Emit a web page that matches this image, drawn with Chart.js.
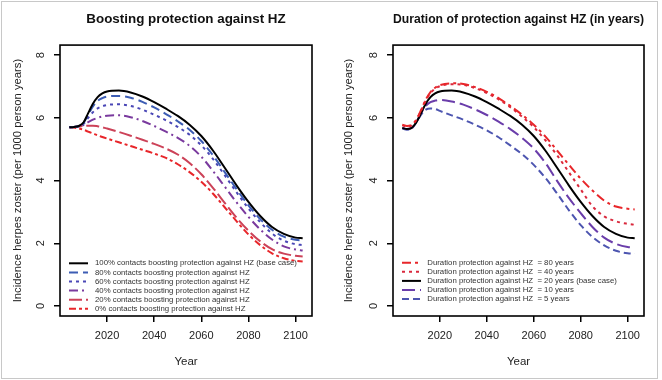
<!DOCTYPE html>
<html>
<head>
<meta charset="utf-8">
<script src="https://cdn.jsdelivr.net/npm/chart.js@4.4.1/dist/chart.umd.min.js"></script>
<style>
    body { margin: 0; background: #fff; }
    .frame { position: absolute; left: 1px; top: 1px; width: 655px; height: 376px; border: 1px solid #c8c8c8; }
    .panel { position: absolute; top: 0; width: 331px; height: 380px; }
</style>
</head>
<body>
<div class="frame"></div>
<div class="panel" style="left:0"><canvas id="boosting" width="331" height="380"></canvas></div>
<div class="panel" style="left:331px"><canvas id="duracion" width="331" height="380"></canvas></div>
<script>
const years = [2004, 2006, 2008, 2010, 2012, 2014, 2016, 2018, 2020, 2025, 2030, 2035, 2040, 2045, 2050, 2055, 2060, 2065, 2070, 2075, 2080, 2085, 2090, 2095, 2100, 2103];
const yTicks = [0, 2, 4, 6, 8];
const xTicks = [2020, 2040, 2060, 2080, 2100];

// left panel: % contacts boosting protection
const boost100 = [5.70, 5.71, 5.74, 5.85, 6.15, 6.45, 6.66, 6.78, 6.84, 6.87, 6.81, 6.68, 6.50, 6.29, 6.06, 5.78, 5.42, 4.95, 4.40, 3.84, 3.32, 2.87, 2.52, 2.30, 2.18, 2.16];
const boost80 = [5.70, 5.71, 5.74, 5.84, 6.10, 6.36, 6.54, 6.63, 6.68, 6.70, 6.64, 6.51, 6.33, 6.12, 5.89, 5.62, 5.26, 4.80, 4.26, 3.72, 3.21, 2.77, 2.43, 2.21, 2.11, 2.09];
const boost60 = [5.70, 5.71, 5.73, 5.80, 6.00, 6.18, 6.30, 6.37, 6.41, 6.43, 6.38, 6.26, 6.10, 5.92, 5.71, 5.46, 5.12, 4.68, 4.16, 3.62, 3.11, 2.67, 2.31, 2.08, 1.97, 1.94];
const boost40 = [5.70, 5.71, 5.73, 5.77, 5.86, 5.94, 6.00, 6.04, 6.07, 6.08, 6.02, 5.90, 5.74, 5.56, 5.36, 5.11, 4.76, 4.30, 3.80, 3.30, 2.84, 2.44, 2.12, 1.90, 1.80, 1.77];
const boost20 = [5.70, 5.71, 5.72, 5.74, 5.75, 5.75, 5.73, 5.70, 5.66, 5.55, 5.43, 5.30, 5.17, 5.02, 4.83, 4.56, 4.20, 3.76, 3.28, 2.81, 2.40, 2.06, 1.81, 1.67, 1.60, 1.58];
const boost0 = [5.70, 5.69, 5.66, 5.62, 5.56, 5.50, 5.44, 5.39, 5.34, 5.22, 5.10, 4.98, 4.86, 4.72, 4.52, 4.27, 3.96, 3.58, 3.14, 2.70, 2.28, 1.94, 1.68, 1.52, 1.44, 1.42];

// right panel: duration of protection (years)
const dur80 = [5.78, 5.74, 5.78, 5.95, 6.25, 6.58, 6.82, 6.96, 7.04, 7.10, 7.08, 6.98, 6.83, 6.63, 6.38, 6.10, 5.78, 5.40, 4.95, 4.50, 4.06, 3.68, 3.36, 3.17, 3.10, 3.08];
const dur40 = [5.76, 5.72, 5.76, 5.93, 6.23, 6.55, 6.79, 6.93, 7.01, 7.07, 7.05, 6.95, 6.79, 6.59, 6.34, 6.04, 5.70, 5.28, 4.80, 4.26, 3.72, 3.18, 2.86, 2.70, 2.62, 2.59];
const dur20 = [5.68, 5.64, 5.68, 5.86, 6.15, 6.45, 6.66, 6.78, 6.84, 6.87, 6.81, 6.68, 6.50, 6.29, 6.06, 5.78, 5.42, 4.95, 4.40, 3.84, 3.32, 2.87, 2.52, 2.30, 2.18, 2.16];
const dur10 = [5.68, 5.64, 5.68, 5.86, 6.15, 6.38, 6.50, 6.55, 6.57, 6.52, 6.42, 6.27, 6.09, 5.88, 5.64, 5.36, 5.02, 4.56, 3.98, 3.44, 2.96, 2.52, 2.18, 1.98, 1.88, 1.86];
const dur5 = [5.66, 5.62, 5.66, 5.85, 6.10, 6.26, 6.30, 6.28, 6.22, 6.08, 5.94, 5.78, 5.60, 5.38, 5.12, 4.84, 4.50, 4.08, 3.58, 3.05, 2.58, 2.20, 1.93, 1.76, 1.68, 1.66];

const boostLabels = [
    "100% contacts boosting protection against HZ (base case)",
    "80% contacts boosting protection against HZ",
    "60% contacts boosting protection against HZ",
    "40% contacts boosting protection against HZ",
    "20% contacts boosting protection against HZ",
    "0% contacts boosting protection against HZ",
];
const durLabels = [
    "Duration protection against HZ  = 80 years",
    "Duration protection against HZ  = 40 years",
    "Duration protection against HZ  = 20 years (base case)",
    "Duration protection against HZ  = 10 years",
    "Duration protection against HZ  = 5 years",
];

const FONT = '"Liberation Sans", Arial, sans-serif';
Chart.defaults.font.family = FONT;
Chart.defaults.color = "#222";

function serie(label, values, color, dash) {
    return {
        label: label,
        data: years.map((y, i) => ({ x: y, y: values[i] })),
        borderColor: color,
        backgroundColor: color,
        borderWidth: 2,
        borderDash: dash,
        pointRadius: 0,
        cubicInterpolationMode: "monotone",
        fill: false,
    };
}

// frame, rotated y labels (R style) and the legend inside the plot
const rStyle = {
    id: "rStyle",
    afterDraw(chart, args, opts) {
        const ctx = chart.ctx;
        const a = chart.chartArea;
        ctx.save();
        ctx.strokeStyle = "#000";
        ctx.lineWidth = 1.6;
        ctx.setLineDash([]);
        ctx.strokeRect(a.left, a.top, a.right - a.left, a.bottom - a.top);

        const ys = chart.scales.y;
        ctx.fillStyle = "#222";
        ctx.font = "11px " + FONT;
        ctx.textAlign = "center";
        ctx.textBaseline = "middle";
        ys.ticks.forEach(t => {
            ctx.save();
            ctx.translate(a.left - opts.labelOffset, ys.getPixelForValue(t.value));
            ctx.rotate(-Math.PI / 2);
            ctx.fillText(String(t.value), 0, 0);
            ctx.restore();
        });

        ctx.font = "7.8px " + FONT;
        ctx.textAlign = "left";
        chart.data.datasets.forEach((ds, i) => {
            const y = a.bottom - opts.legendUp + i * 9.1;
            ctx.strokeStyle = ds.borderColor;
            ctx.lineWidth = 2;
            ctx.setLineDash(ds.borderDash);
            ctx.beginPath();
            ctx.moveTo(a.left + 9, y);
            ctx.lineTo(a.left + 28, y);
            ctx.stroke();
            ctx.fillStyle = "#333";
            ctx.fillText(ds.label, a.left + opts.textX, y);
        });
        ctx.restore();
    },
};

function opciones(titulo, yWidth, padRight, legendUp, textX) {
    return {
        responsive: false,
        animation: false,
        layout: { padding: { left: 0, right: padRight, top: 0, bottom: 0 } },
        plugins: {
            legend: { display: false },
            tooltip: { enabled: false },
            title: {
                display: true,
                text: titulo,
                fullSize: false,
                color: "#111",
                font: { size: 13.4, weight: "bold" },
                padding: { top: 11, bottom: 18 },
            },
            rStyle: { labelOffset: 19, legendUp: legendUp, textX: textX },
        },
        scales: {
            x: {
                type: "linear",
                min: 2000.04,
                max: 2106.96,
                afterFit(scale) { scale.height = 64; },
                border: { display: false },
                grid: { drawOnChartArea: false, drawTicks: true, tickLength: 6, color: "#000", lineWidth: 1.5 },
                afterBuildTicks(scale) { scale.ticks = xTicks.map(v => ({ value: v })); },
                ticks: { font: { size: 11 }, padding: 7, maxRotation: 0, callback: v => String(v) },
                title: { display: true, text: "Year", font: { size: 11.5 }, padding: { top: 0, bottom: 11 } },
            },
            y: {
                min: -0.32,
                max: 8.32,
                afterFit(scale) { scale.width = yWidth; },
                border: { display: false },
                grid: { drawOnChartArea: false, drawTicks: true, tickLength: 6, color: "#000", lineWidth: 1.5 },
                afterBuildTicks(scale) { scale.ticks = yTicks.map(v => ({ value: v })); },
                ticks: { display: false },
                title: {
                    display: true,
                    text: "Incidence herpes zoster (per 1000 person years)",
                    font: { size: 11.3 },
                    padding: { top: 11, bottom: 0 },
                },
            },
        },
    };
}

const ctx1 = document.getElementById("boosting");
const chart1 = new Chart(ctx1, {
    type: "line",
    data: {
        datasets: [
            serie(boostLabels[0], boost100, "#000000", []),
            serie(boostLabels[1], boost80, "#3d5db4", [9, 5]),
            serie(boostLabels[2], boost60, "#4a47b6", [3, 4]),
            serie(boostLabels[3], boost40, "#7a3a9e", [9, 4, 2, 4]),
            serie(boostLabels[4], boost20, "#cc4258", [13, 4]),
            serie(boostLabels[5], boost0, "#e8262a", [7, 3, 3, 3]),
        ],
    },
    options: opciones("Boosting protection against HZ", 60, 19, 52.7, 35),
    plugins: [rStyle],
});

const ctx2 = document.getElementById("duracion");
const chart2 = new Chart(ctx2, {
    type: "line",
    data: {
        datasets: [
            serie(durLabels[0], dur80, "#e8262a", [9, 4, 3, 4]),
            serie(durLabels[1], dur40, "#d9283c", [3, 4]),
            serie(durLabels[2], dur20, "#000000", []),
            serie(durLabels[3], dur10, "#6a3daa", [13, 5]),
            serie(durLabels[4], dur5, "#4d55b0", [7, 4]),
        ],
    },
    options: opciones("Duration of protection against HZ (in years)", 62, 18, 53.3, 34.3),
    plugins: [rStyle],
});
</script>
</body>
</html>
